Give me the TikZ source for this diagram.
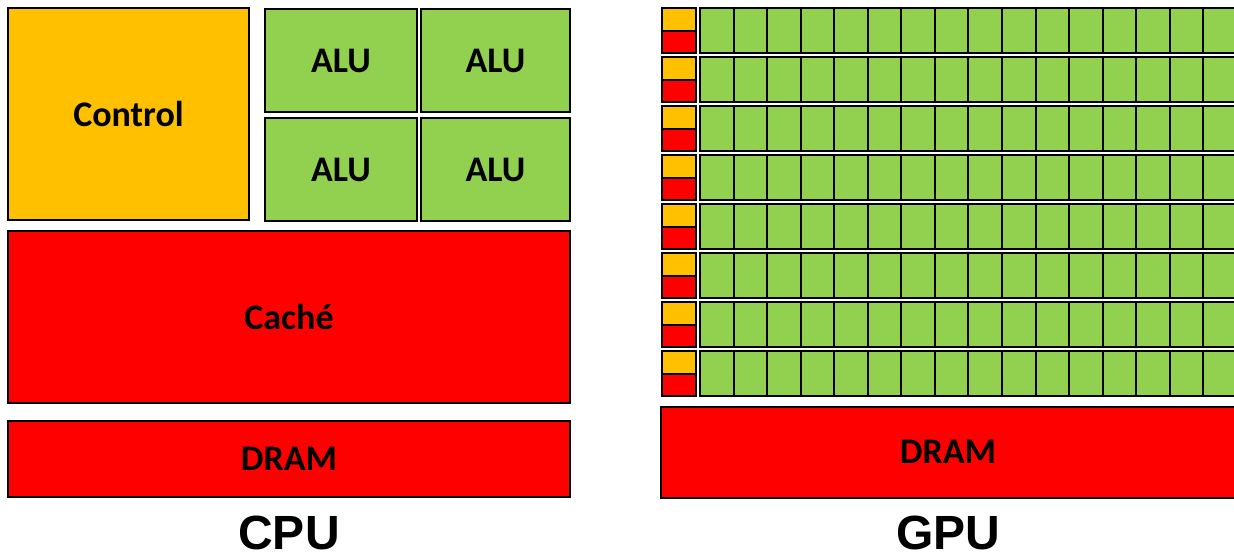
\documentclass[tikz,border=0pt]{standalone}
\usepackage{fontspec}
\setmainfont{Carlito}
\newfontfamily\headfont{Liberation Sans}
\definecolor{ctrl-orange}{HTML}{FFC000}
\definecolor{alu-green}{HTML}{92D050}
\definecolor{mem-red}{HTML}{FF0000}

\begin{document}
\begin{tikzpicture}[x=1pt, y=-1pt,
    box/.style={draw=black, line width=2pt, inner sep=0pt,
                font=\fontsize{36}{40}\selectfont\bfseries},
    cell/.style={draw=black, line width=2pt, inner sep=0pt}]
    % Diagram: CPU (left) and GPU (right), 1 unit = 1px of a 1234x558 canvas
    % Coordinates: (x, y), y grows downwards
    %   CPU: control 8..249, ALUs 265..570, cache y 231..403, DRAM y 421..497
    %   GPU: 8 rows, pitch 49, small control/cache at x 662, cores from x 700
    %   GPU DRAM y 407..498, runs past the right edge
    \clip (0,0) rectangle (1234,558);
    \useasboundingbox (0,0) rectangle (1234,558);

    % CPU
    \node[box, fill=ctrl-orange, minimum width=241pt, minimum height=212pt]
          (ctrl) at (128.5,114) {Control};
    \node[box, fill=alu-green, minimum width=152pt, minimum height=103pt]
          (alu-11) at (341,60.5) {ALU};
    \node[box, fill=alu-green, minimum width=149pt, minimum height=103pt]
          (alu-12) at (495.5,60.5) {ALU};
    \node[box, fill=alu-green, minimum width=152pt, minimum height=103pt]
          (alu-21) at (341,169.5) {ALU};
    \node[box, fill=alu-green, minimum width=149pt, minimum height=103pt]
          (alu-22) at (495.5,169.5) {ALU};
    \node[box, fill=mem-red, minimum width=562pt, minimum height=172pt]
          (cache) at (289,317) {Caché};
    \node[box, fill=mem-red, minimum width=562pt, minimum height=76pt]
          (cpu-dram) at (289,459) {DRAM};
    \node[font=\headfont\fontsize{48}{52}\selectfont\bfseries]
          (cpu-label) at (289,533) {CPU};

    % GPU
    \foreach \r in {0,...,7} {
      \node[cell, fill=ctrl-orange, minimum width=34pt, minimum height=22.5pt]
            (gctrl-\r) at (679,19.25+49*\r) {};
      \node[cell, fill=mem-red, minimum width=34pt, minimum height=22.5pt]
            (gcache-\r) at (679,41.75+49*\r) {};
      \foreach \c in {0,...,16} {
        \node[cell, fill=alu-green, minimum width=33.55pt, minimum height=45pt]
              (core-\r-\c) at (716.8+33.55*\c,30.5+49*\r) {};
      }
    }
    \node[box, fill=mem-red, minimum width=590pt, minimum height=91pt]
          (gpu-dram) at (956,452.5) {};
    \node[font=\fontsize{36}{40}\selectfont\bfseries] (gpu-dram-text) at (948,452) {DRAM};
    \node[font=\headfont\fontsize{48}{52}\selectfont\bfseries]
          (gpu-label) at (948,533) {GPU};
\end{tikzpicture}
\end{document}
